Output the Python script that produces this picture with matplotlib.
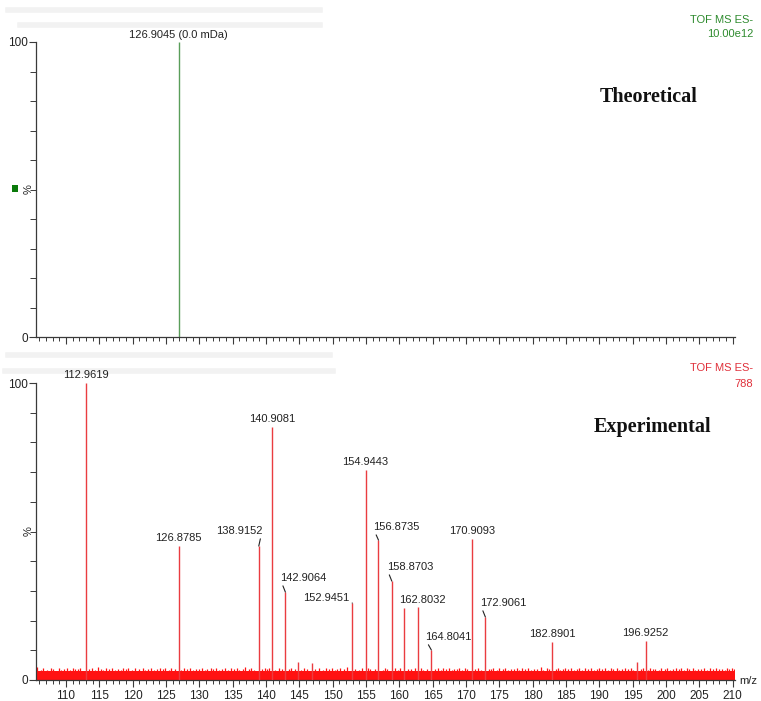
import matplotlib
matplotlib.use('Agg')
import matplotlib.pyplot as plt
from matplotlib.patches import Rectangle
from matplotlib.lines import Line2D
from matplotlib.ticker import MultipleLocator, FixedLocator

plt.rcParams['font.family'] = ['Liberation Sans Narrow', 'Liberation Sans', 'DejaVu Sans']

# ---- Theoretical spectrum ----
theo_mz = [126.9045]
theo_int = [100.0]
theo_labels = ['126.9045 (0.0 mDa)']

# ---- Experimental spectrum: labelled peaks ----
exp_mz = [112.9619, 126.8785, 138.9152, 140.9081, 142.9064, 152.9451, 154.9443,
          156.8735, 158.8703, 162.8032, 164.8041, 170.9093, 172.9061, 182.8901,
          196.9252]
exp_int = [100.0, 45.0, 45.1, 85.2, 29.6, 25.9, 70.7,
           47.1, 33.3, 24.6, 10.1, 47.5, 21.2, 12.8,
           13.1]

# unlabelled minor peaks
minor_mz = [144.8, 146.9, 160.7, 195.6]
minor_int = [6.0, 5.7, 24.2, 6.0]

# baseline noise
noise_floor = 2.9
noise_mz = [105.7, 106.2, 106.6, 107.2, 107.7, 108.1, 108.9, 109.3, 109.7, 110.2,
            110.6, 111.0, 111.4, 111.8, 112.1, 113.5, 113.9, 114.4, 114.8, 115.2,
            115.6, 116.0, 116.5, 116.9, 117.3, 117.8, 118.2, 118.6, 119.0, 119.3,
            119.9, 120.4, 120.9, 121.5, 121.9, 122.3, 122.8, 123.2, 123.6, 124.1,
            124.5, 124.9, 125.4, 125.8, 126.3, 127.3, 127.7, 128.1, 128.6, 129.0,
            129.5, 129.9, 130.4, 130.8, 131.2, 131.7, 132.1, 132.5, 133.0, 133.4,
            133.9, 134.3, 134.7, 135.2, 135.6, 136.0, 136.5, 136.9, 137.4, 137.8,
            138.2, 139.4, 139.8, 140.2, 140.5, 141.4, 141.9, 142.4, 143.4, 143.8,
            144.3, 145.3, 145.7, 146.2, 147.4, 147.9, 148.5, 149.0, 149.4, 149.9,
            150.3, 150.7, 151.1, 151.7, 152.2, 153.4, 153.9, 154.4, 155.3, 155.6,
            156.3, 157.5, 157.9, 158.2, 159.4, 159.8, 160.1, 161.3, 161.8, 162.3,
            163.2, 163.6, 164.2, 165.4, 165.8, 166.2, 166.6, 167.0, 167.5, 167.9,
            168.2, 168.6, 169.0, 169.4, 169.8, 170.2, 171.4, 171.8, 172.2, 173.4,
            173.7, 174.1, 174.6, 175.0, 175.5, 175.9, 176.3, 176.8, 177.2, 177.6,
            178.0, 178.4, 178.9, 179.3, 179.7, 180.2, 180.7, 181.2, 181.6, 182.1,
            182.5, 183.5, 183.8, 184.1, 184.5, 184.9, 185.3, 185.7, 186.2, 186.6,
            187.0, 187.4, 187.9, 188.3, 188.8, 189.2, 189.6, 190.0, 190.4, 190.8,
            191.3, 191.7, 192.1, 192.6, 193.0, 193.4, 193.9, 194.3, 194.7, 195.1,
            196.2, 196.5, 197.3, 197.6, 198.0, 198.4, 198.9, 199.3, 199.8, 200.2,
            200.6, 201.0, 201.5, 201.9, 202.3, 202.7, 203.1, 203.5, 204.0, 204.4,
            204.8, 205.3, 205.7, 206.2, 206.6, 207.1, 207.5, 208.0, 208.4, 208.8,
            209.2, 209.5, 209.9, 210.2]
noise_int = [4.3, 3.5, 3.9, 3.4, 4.1, 3.6, 4.0, 3.3, 3.7, 3.9,
             3.5, 4.2, 3.6, 3.8, 4.0, 3.6, 3.9, 3.5, 4.3, 3.7,
             3.4, 3.9, 3.6, 4.1, 3.5, 3.8, 3.4, 4.0, 3.6, 3.9,
             3.5, 4.2, 3.7, 3.9, 3.4, 3.8, 4.1, 3.5, 3.7, 4.0,
             3.6, 3.9, 3.4, 4.2, 3.7, 3.5, 3.9, 3.6, 4.1, 3.4,
             3.8, 3.6, 4.0, 3.5, 3.7, 4.2, 3.6, 3.9, 3.4, 3.8,
             4.0, 3.5, 3.9, 3.6, 4.1, 3.4, 3.7, 4.3, 3.6, 3.9,
             3.5, 3.8, 4.0, 3.6, 3.9, 3.5, 4.1, 3.7, 3.6, 4.0,
             3.8, 3.5, 4.0, 3.7, 3.6, 4.2, 3.5, 3.9, 3.6, 4.1,
             3.4, 3.8, 4.0, 3.6, 4.4, 3.7, 3.5, 3.9, 4.1, 3.6,
             3.8, 3.5, 4.0, 3.7, 3.9, 3.5, 4.2, 3.6, 3.8, 4.1,
             3.9, 3.5, 3.7, 3.6, 4.0, 3.5, 3.9, 3.6, 4.2, 3.4,
             3.8, 3.6, 4.0, 3.5, 3.9, 3.7, 3.6, 4.1, 3.5, 3.8,
             3.6, 4.0, 3.4, 3.9, 3.6, 4.2, 3.5, 3.8, 3.7, 4.0,
             3.5, 3.9, 3.6, 4.1, 3.4, 3.8, 3.6, 4.3, 3.5, 3.9,
             3.6, 3.7, 4.0, 3.5, 3.8, 4.1, 3.6, 3.9, 3.4, 3.8,
             4.0, 3.5, 4.2, 3.6, 3.9, 3.5, 3.8, 4.0, 3.6, 3.9,
             3.4, 4.1, 3.7, 3.9, 3.5, 3.8, 4.2, 3.6, 3.9, 3.5,
             3.7, 4.0, 3.5, 4.1, 3.6, 3.8, 3.5, 4.0, 3.7, 3.9,
             3.4, 3.8, 4.1, 3.6, 3.9, 3.5, 4.0, 3.6, 4.2, 3.5,
             3.8, 3.6, 4.0, 3.5, 3.9, 3.7, 4.1, 3.6, 3.8, 3.5,
             4.0, 3.7, 4.2, 3.6]

x_range = (105.5, 210.35)
x_major = list(range(110, 211, 5))
y_labels = [0, 100]

# ---- styling ----
W, H = 761, 701
green = '#5a9e5a'
green_text = '#2e8b2e'
red_peak = '#ea3c40'
red_noise = '#ff1212'
red_text = '#e0303a'
axis_col = '#3a3a3a'
txt_col = '#222222'
fs = 8

# label offsets (pixels) of label centre relative to the peak apex
label_offsets = {
    138.9152: (-19, 15), 142.9064: (18, 14), 152.9451: (-26, 5),
    156.8735: (18, 13), 158.8703: (18, 14), 162.8032: (4, 7),
    164.8041: (17, 13), 172.9061: (18, 14),
}
leaders = {138.9152, 142.9064, 152.9451, 156.8735, 158.8703, 164.8041, 172.9061}

fig = plt.figure(figsize=(W / 100, H / 100), dpi=100)
fig.patch.set_facecolor('white')

L = 36 / W
AW = (735 - 36) / W
ax1 = fig.add_axes([L, (H - 337) / H, AW, (337 - 42) / H])
ax2 = fig.add_axes([L, (H - 680) / H, AW, (680 - 383) / H])


def style_axis(ax, show_xlabels):
    ax.set_xlim(*x_range)
    ax.set_ylim(0, 100)
    for s in ('top', 'right'):
        ax.spines[s].set_visible(False)
    for s in ('left', 'bottom'):
        ax.spines[s].set_color(axis_col)
        ax.spines[s].set_linewidth(0.9)
    ax.xaxis.set_major_locator(FixedLocator(x_major))
    ax.xaxis.set_minor_locator(MultipleLocator(1))
    ax.yaxis.set_major_locator(FixedLocator(y_labels))
    ax.yaxis.set_minor_locator(MultipleLocator(10))
    ax.tick_params(axis='x', which='major', length=5, width=0.8, color=axis_col,
                   labelsize=fs + 0.5, labelcolor=txt_col, pad=2,
                   labelbottom=show_xlabels)
    ax.tick_params(axis='x', which='minor', length=3, width=0.7, color=axis_col)
    ax.tick_params(axis='y', which='major', length=5, width=0.8, color=axis_col,
                   labelsize=fs + 0.5, labelcolor=txt_col, pad=1)
    ax.tick_params(axis='y', which='minor', length=4, width=0.7, color=axis_col)
    ax.set_facecolor('none')


style_axis(ax1, False)
style_axis(ax2, True)

# ---- theoretical panel ----
ax1.vlines(theo_mz, 0, theo_int, color=green, lw=1.0)
for mz, h, lab in zip(theo_mz, theo_int, theo_labels):
    ax1.annotate(lab, xy=(mz, h), xytext=(0, 7), textcoords='offset pixels',
                 ha='center', va='center', fontsize=fs, color=txt_col,
                 annotation_clip=False)

# ---- experimental panel ----
ax2.fill_between(list(x_range), 0, noise_floor, color=red_noise, lw=0, zorder=2)
ax2.vlines(noise_mz, 0, noise_int, color=red_noise, lw=0.9, zorder=2)
ax2.vlines(minor_mz, 0, minor_int, color=red_peak, lw=1.0, zorder=3)
ax2.vlines(exp_mz, 0, exp_int, color=red_peak, lw=1.0, zorder=3)

for mz, h in zip(exp_mz, exp_int):
    dx, dy = label_offsets.get(mz, (0, 8))
    kw = {}
    if mz in leaders:
        rel = (0.03, 0.05) if dx > 0 else (0.97, 0.3)
        kw['arrowprops'] = dict(arrowstyle='-', color=txt_col, lw=0.8,
                                shrinkA=0, shrinkB=0, relpos=rel)
    ax2.annotate(f'{mz:.4f}', xy=(mz, h), xytext=(dx, dy),
                 textcoords='offset pixels', ha='center', va='center',
                 fontsize=fs, color=txt_col, annotation_clip=False, **kw)

# ---- header / panel texts ----
fig.text(753 / W, 1 - 20 / H, 'TOF MS ES-', ha='right', va='center',
         fontsize=fs, color=green_text)
fig.text(753 / W, 1 - 34 / H, '10.00e12', ha='right', va='center',
         fontsize=fs, color=green_text)
fig.text(753 / W, 1 - 368 / H, 'TOF MS ES-', ha='right', va='center',
         fontsize=fs, color=red_text)
fig.text(753 / W, 1 - 384 / H, '788', ha='right', va='center',
         fontsize=fs, color=red_text)

fig.text(649 / W, 1 - 97 / H, 'Theoretical', ha='center', va='center',
         fontsize=14.5, fontweight='bold', family='Liberation Serif', color='#111111')
fig.text(653 / W, 1 - 427 / H, 'Experimental', ha='center', va='center',
         fontsize=14.5, fontweight='bold', family='Liberation Serif', color='#111111')

fig.text(29 / W, 1 - 189 / H, '%', rotation=90, ha='center', va='center',
         fontsize=fs, color=txt_col)
fig.text(29 / W, 1 - 531 / H, '%', rotation=90, ha='center', va='center',
         fontsize=fs, color=txt_col)
fig.text(748 / W, 1 - 681 / H, 'm/z', ha='center', va='center',
         fontsize=fs, color=txt_col)

fig.add_artist(Rectangle((12 / W, 1 - 192 / H), 6 / W, 7 / H,
                         transform=fig.transFigure, color='#0b7a0b', lw=0))

# faint washed-out header lines
for y, x0, x1 in [(10, 8, 320), (25, 20, 320), (355, 8, 330), (371, 5, 333)]:
    fig.add_artist(Line2D([x0 / W, x1 / W], [1 - y / H, 1 - y / H],
                          transform=fig.transFigure, color='#f2f2f2', lw=4,
                          zorder=0))

fig.savefig('out.png', dpi=100, facecolor='white')
